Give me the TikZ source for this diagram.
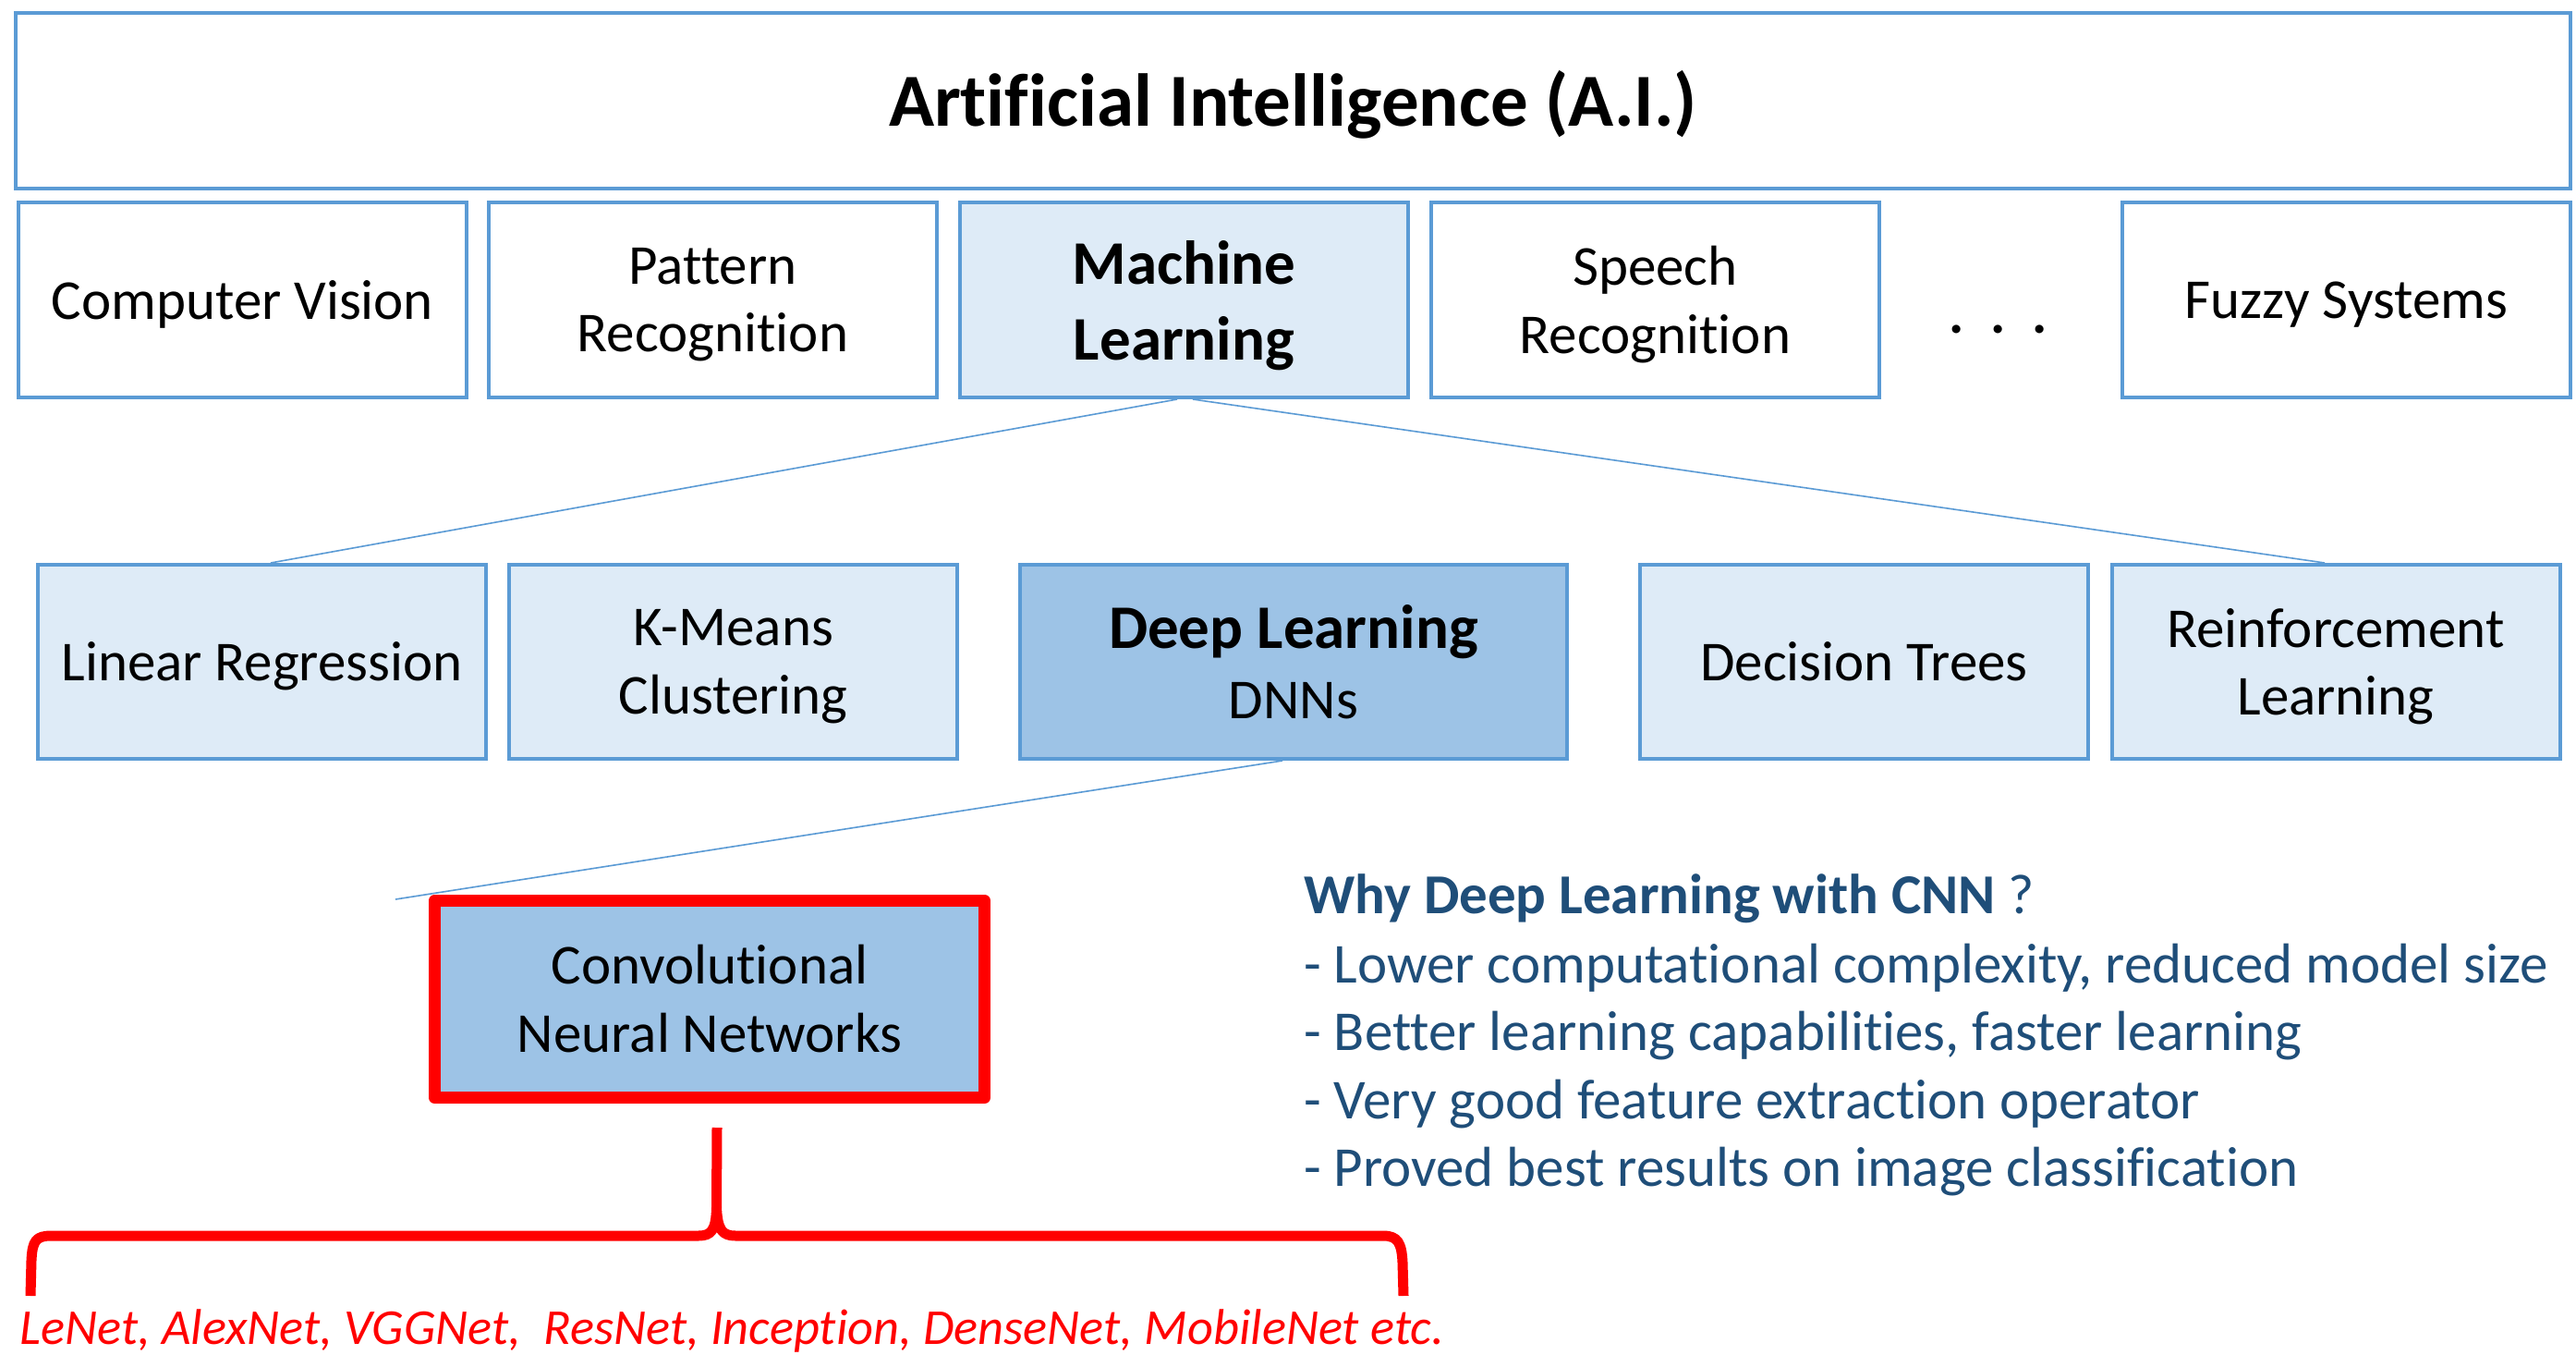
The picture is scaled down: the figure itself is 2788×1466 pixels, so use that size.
\documentclass[tikz,border=0pt]{standalone}
\usepackage{fontspec}
\setmainfont{Carlito}[Ligatures=NoCommon]
\definecolor{bordblue}{HTML}{5B9BD5}
\definecolor{lightfill}{HTML}{DEEBF7}
\definecolor{midfill}{HTML}{9DC3E6}
\definecolor{txtblue}{HTML}{1F4E79}
\definecolor{bred}{HTML}{FF0000}
\begin{document}
\begin{tikzpicture}[x=0.5pt,y=-0.5pt,
  box/.style={draw=bordblue, line width=2pt, minimum width=242.5pt, minimum height=105.5pt,
    inner sep=0pt, align=center, text depth=0pt, font=\fontsize{30.5}{36.8}\selectfont},
  lbox/.style={box, fill=lightfill},
  mbox/.style={box, fill=midfill},
  conn/.style={draw=bordblue, line width=0.8pt},
  bodytxt/.style={anchor=base west, inner sep=0pt, text=txtblue, font=\fontsize{30.5}{36.8}\selectfont},
  bracestyle/.style={draw=bred, line width=5.5pt, line join=round}
]
\fill[white] (0,0) rectangle (2788,1466);
\useasboundingbox (0,0) rectangle (2788,1466);

% top box
\node[box, minimum width=1382.5pt, minimum height=95pt, text depth=3pt, font=\fontsize{40.5}{48}\selectfont\bfseries]
  (ai) at (1399.5,109) {Artificial Intelligence (A.I.)};

% row 1
\node[box] (cv) at (262.5,324.5) {Computer Vision};
\node[box] (pr) at (771.5,324.5) {Pattern\\Recognition};
\node[lbox, font=\fontsize{33.5}{41}\selectfont\bfseries] (ml) at (1281.5,324.5) {Machine\\Learning};
\node[box] (sr) at (1791.5,324.5) {Speech\\Recognition};
\node[inner sep=0pt, font=\fontsize{30.5}{36.8}\selectfont\bfseries] (dots) at (2163,356) {.\hspace{14.4pt}.\hspace{14.4pt}.};
\node[box] (fz) at (2539.5,324.5) {Fuzzy Systems};

% row 2
\node[lbox, minimum height=105pt] (lr) at (283.5,716) {Linear Regression};
\node[lbox, minimum height=105pt] (km) at (793.5,716) {K-Means\\Clustering};
\node[mbox, minimum height=105pt, minimum width=296pt, text depth=-2.5pt, font=\fontsize{30.5}{38}\selectfont] (dl) at (1400,716)
  {{\fontsize{33.5}{38}\selectfont\bfseries Deep Learning}\\DNNs};
\node[lbox, minimum height=105pt, text depth=-3pt] (dt) at (2017.5,716) {Decision Trees};
\node[lbox, minimum height=105pt] (rl) at (2528,716) {Reinforcement\\Learning};

% connectors
\draw[conn] ([xshift=-3.75pt]ml.south) -- ([xshift=4.75pt]lr.north);
\draw[conn] ([xshift=4.75pt]ml.south) -- ([xshift=-6pt]rl.north);
\coordinate (cnnend) at (428,973);
\draw[conn] ([xshift=-6pt]dl.south) -- (cnnend);

% CNN box
\node[mbox, draw=bred, line width=6.3pt, line join=round, minimum width=297.7pt, minimum height=106.7pt, text depth=0.5pt]
  (cnn) at (768,1081) {Convolutional\\Neural Networks};

% brace
\draw[bracestyle] (33,1402) -- (34,1364) .. controls (35,1342) and (39,1337) .. (56,1337)
  -- (756,1337) .. controls (770,1337) and (775,1331) .. (775.5,1306) -- (776,1220);
\draw[bracestyle] (775.5,1306) .. controls (776.5,1331) and (782,1337) .. (796,1337)
  -- (1497,1337) .. controls (1513,1337) and (1517,1345) .. (1518,1366) -- (1519,1402);

\node[anchor=base west, inner sep=0pt, text=bred, font=\fontsize{27.2}{32}\selectfont\itshape]
  (models) at (21,1454) {LeNet, AlexNet, VGGNet,\ \ ResNet, Inception, DenseNet, MobileNet etc.};

% right text
\node[bodytxt] (why) at (1411,988) {\textbf{Why Deep Learning with CNN} ?};
\node[bodytxt] (r1) at (1411,1063) {- Lower computational complexity, reduced model size};
\node[bodytxt] (r2) at (1411,1136) {- Better learning capabilities, faster learning};
\node[bodytxt] (r3) at (1411,1210) {- Very good feature extraction operator};
\node[bodytxt] (r4) at (1411,1283) {- Proved best results on image classification};
\end{tikzpicture}
\end{document}
